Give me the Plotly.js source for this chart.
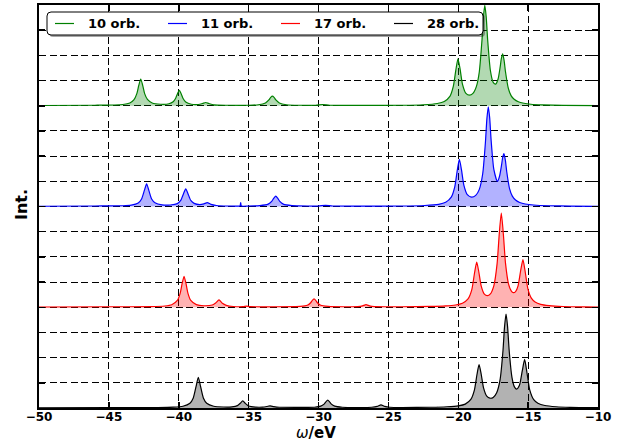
<!DOCTYPE html>
<html><head><meta charset="utf-8">
<script src="https://cdn.plot.ly/plotly-3.0.1.min.js"></script>
<style>html,body{margin:0;padding:0;background:#fff}#chart{width:618px;height:443px}</style>
</head><body><div id="chart"></div>
<script>
const labels = ['10 orb.', '11 orb.', '17 orb.', '28 orb.'];
const offsets = [12, 8, 4, 0];

const x10 = [-50,-46,-44,-43.5,-43.2,-43.0,-42.86,-42.72,-42.58,-42.44,-42.24,-41.9,-41.3,-40.7,-40.4,-40.22,-40.09,-39.96,-39.83,-39.7,-39.5,-39.1,-38.6,-38.3,-38.07,-37.85,-37.5,-36.5,-35,-34.3,-33.8,-33.55,-33.42,-33.3,-33.18,-33.05,-32.8,-32.3,-31.3,-30.2,-29.7,-29.2,-27,-24,-22.5,-21.5,-21.0,-20.6,-20.35,-20.17,-20.02,-19.87,-19.7,-19.45,-19.2,-18.95,-18.7,-18.5,-18.3,-18.2,-18.1,-18.0,-17.9,-17.7,-17.5,-17.32,-17.15,-17.0,-16.92,-16.82,-16.72,-16.62,-16.42,-16.22,-16.0,-15.7,-15.3,-14.8,-14,-12.5,-10];
const y10 = [0.01,0.02,0.05,0.11,0.24,0.48,0.81,1.06,0.81,0.48,0.25,0.11,0.06,0.08,0.16,0.3,0.48,0.61,0.48,0.3,0.15,0.06,0.05,0.09,0.13,0.09,0.035,0.02,0.02,0.04,0.11,0.23,0.33,0.38,0.33,0.23,0.11,0.04,0.02,0.02,0.05,0.02,0.015,0.02,0.04,0.09,0.17,0.37,0.78,1.43,1.86,1.46,0.86,0.49,0.42,0.49,0.77,1.32,2.62,3.52,3.99,3.53,2.65,1.40,0.93,0.86,1.06,1.54,1.86,2.06,1.80,1.35,0.70,0.40,0.26,0.16,0.10,0.06,0.035,0.015,0.008];

const x11 = [-50,-46,-44,-43.4,-42.9,-42.66,-42.46,-42.3,-42.14,-41.94,-41.7,-41.2,-40.6,-40.1,-39.86,-39.66,-39.5,-39.34,-39.14,-38.9,-38.5,-38.2,-37.96,-37.7,-37.3,-36.5,-35.8,-35.62,-35.57,-35.52,-35,-34.2,-33.6,-33.35,-33.2,-33.06,-32.92,-32.77,-32.52,-31.9,-30.8,-30,-29.5,-29.0,-27,-24,-22.4,-21.4,-20.9,-20.5,-20.25,-20.07,-19.92,-19.77,-19.6,-19.35,-19.04,-18.75,-18.5,-18.25,-18.05,-17.95,-17.85,-17.75,-17.65,-17.45,-17.2,-17.05,-16.9,-16.82,-16.73,-16.63,-16.53,-16.33,-16.13,-15.9,-15.6,-15.2,-14.6,-13.5,-12,-10];
const y11 = [0.01,0.02,0.03,0.055,0.14,0.30,0.64,0.90,0.64,0.30,0.15,0.065,0.06,0.115,0.24,0.51,0.70,0.51,0.24,0.125,0.075,0.105,0.155,0.085,0.04,0.02,0.015,0.02,0.15,0.02,0.02,0.035,0.095,0.20,0.33,0.41,0.33,0.20,0.095,0.035,0.02,0.02,0.045,0.02,0.015,0.02,0.04,0.085,0.165,0.37,0.78,1.44,1.87,1.46,0.85,0.47,0.37,0.44,0.67,1.30,2.59,3.49,3.96,3.52,2.65,1.46,1.0,1.19,1.65,1.95,2.1,1.84,1.38,0.71,0.41,0.26,0.16,0.10,0.06,0.03,0.015,0.008];

const x17 = [-50,-45,-42,-41,-40.5,-40.1,-39.9,-39.76,-39.62,-39.48,-39.34,-39.14,-38.74,-38.2,-37.6,-37.36,-37.12,-36.88,-36.6,-36.1,-35.4,-35.14,-34.9,-33,-31.3,-30.8,-30.56,-30.44,-30.32,-30.2,-30.08,-29.84,-29.3,-28.2,-27.2,-26.85,-26.6,-26.35,-26.0,-25,-24,-22,-20.9,-20.2,-19.7,-19.3,-19.03,-18.83,-18.68,-18.53,-18.36,-18.13,-17.92,-17.7,-17.45,-17.22,-17.07,-16.92,-16.77,-16.62,-16.4,-16.2,-16.06,-15.9,-15.72,-15.52,-15.37,-15.22,-15.02,-14.77,-14.5,-14.1,-13.5,-12.5,-11,-10];
const y17 = [0.01,0.02,0.025,0.05,0.10,0.27,0.55,0.935,1.23,0.935,0.55,0.27,0.105,0.06,0.09,0.165,0.29,0.155,0.075,0.03,0.025,0.045,0.025,0.02,0.035,0.08,0.18,0.275,0.33,0.275,0.18,0.08,0.035,0.02,0.025,0.055,0.105,0.055,0.025,0.02,0.02,0.035,0.055,0.09,0.16,0.33,0.70,1.38,1.79,1.41,0.85,0.52,0.46,0.53,0.86,1.73,2.88,3.74,2.89,1.75,0.92,0.64,0.58,0.62,0.85,1.50,1.89,1.45,0.74,0.36,0.21,0.115,0.065,0.03,0.015,0.01];

const x28 = [-50,-45,-41.5,-40.4,-39.7,-39.2,-38.96,-38.76,-38.6,-38.44,-38.24,-38.0,-37.5,-36.8,-36.2,-35.8,-35.6,-35.42,-35.24,-35.0,-34.5,-34.0,-33.7,-33.47,-33.2,-32.8,-31.5,-30.3,-29.84,-29.6,-29.46,-29.34,-29.22,-29.08,-28.84,-28.3,-27,-26.2,-25.8,-25.53,-25.26,-24.9,-24,-22,-20.8,-20.0,-19.5,-19.1,-18.85,-18.66,-18.51,-18.36,-18.19,-17.96,-17.73,-17.5,-17.25,-17.0,-16.8,-16.69,-16.58,-16.47,-16.36,-16.16,-15.98,-15.82,-15.62,-15.42,-15.25,-15.08,-14.88,-14.6,-14.3,-13.8,-13,-12,-10];
const y28 = [0.01,0.015,0.02,0.035,0.07,0.19,0.40,0.86,1.22,0.86,0.40,0.19,0.07,0.04,0.045,0.095,0.19,0.28,0.185,0.08,0.035,0.035,0.06,0.085,0.055,0.03,0.025,0.03,0.075,0.155,0.255,0.31,0.255,0.155,0.075,0.03,0.02,0.03,0.065,0.125,0.065,0.03,0.02,0.03,0.05,0.085,0.155,0.34,0.70,1.33,1.72,1.35,0.80,0.47,0.39,0.42,0.61,1.15,2.27,3.21,3.73,3.23,2.31,1.23,0.84,0.75,0.90,1.47,1.93,1.39,0.71,0.33,0.19,0.10,0.05,0.025,0.012];

const xAxisRange = [-50, -10];
const lineColors = ['#008000', '#0000ff', '#ff0000', '#000000'];
const fillColors = ['rgba(0,128,0,0.3)', 'rgba(0,0,255,0.3)', 'rgba(255,0,0,0.3)', 'rgba(0,0,0,0.3)'];

const W = 618, H = 443, M = {l: 39, r: 20, t: 5, b: 35};
const PW = W - M.l - M.r, PH = H - M.t - M.b;
const px = v => (v - M.l) / PW;          // pixel x -> paper x
const py = v => (H - M.b - v) / PH;      // pixel y -> paper y

const xs = [x10, x11, x17, x28];
const ys = [y10, y11, y17, y28];
const traces = [];
xs.forEach((x, i) => {
  traces.push({
    x: xAxisRange, y: [offsets[i], offsets[i]], mode: 'lines',
    line: {width: 0, color: 'rgba(0,0,0,0)'}, showlegend: false, hoverinfo: 'skip'
  });
  traces.push({
    x: x, y: ys[i].map(v => v + offsets[i]), mode: 'lines', fill: 'tonexty',
    fillcolor: fillColors[i], name: labels[i],
    line: {color: lineColors[i], width: 1.2, shape: 'spline', smoothing: 0.6},
    showlegend: false, hoverinfo: 'skip'
  });
});

// hand-drawn legend box (matplotlib-style: rounded, shadowed, single row)
function roundRect(x0, y0, x1, y1, r) {
  const X0 = px(x0), X1 = px(x1), Yt = py(y0), Yb = py(y1);
  const rx = r / PW, ry = r / PH;
  return `M${X0 + rx},${Yt} L${X1 - rx},${Yt} Q${X1},${Yt} ${X1},${Yt - ry} ` +
         `L${X1},${Yb + ry} Q${X1},${Yb} ${X1 - rx},${Yb} L${X0 + rx},${Yb} ` +
         `Q${X0},${Yb} ${X0},${Yb + ry} L${X0},${Yt - ry} Q${X0},${Yt} ${X0 + rx},${Yt} Z`;
}
const legBox = {x0: 47, y0: 12, x1: 483, y1: 35};
const legItem = {first: 55, pitch: 113, lineLen: 19, textGap: 32, yMid: 23.5};
const shapes = [
  {type: 'path', xref: 'paper', yref: 'paper', layer: 'above',
   path: roundRect(legBox.x0 + 2, legBox.y0 + 2, legBox.x1 + 2, legBox.y1 + 2, 4),
   fillcolor: 'rgba(0,0,0,0.35)', line: {width: 0}},
  {type: 'path', xref: 'paper', yref: 'paper', layer: 'above',
   path: roundRect(legBox.x0, legBox.y0, legBox.x1, legBox.y1, 4),
   fillcolor: '#ffffff', line: {color: '#000', width: 1}}
];
const annotations = [
  {text: '<span style="font-weight:normal"><i>ω</i></span>/eV', xref: 'paper', yref: 'paper',
   x: px(316), y: py(433), xanchor: 'center', yanchor: 'middle', showarrow: false,
   borderpad: 0, font: {size: 15, weight: 'bold'}},
  {text: 'Int.', xref: 'paper', yref: 'paper', x: px(21), y: py(205),
   xanchor: 'center', yanchor: 'middle', showarrow: false, textangle: -90,
   font: {size: 16, weight: 'bold'}}
];
labels.forEach((l, i) => {
  const lx = legItem.first + i * legItem.pitch;
  shapes.push({type: 'line', xref: 'paper', yref: 'paper', layer: 'above',
    x0: px(lx), x1: px(lx + legItem.lineLen), y0: py(legItem.yMid), y1: py(legItem.yMid),
    line: {color: lineColors[i], width: 1.2}});
  annotations.push({text: l, xref: 'paper', yref: 'paper',
    x: px(lx + legItem.textGap), y: py(legItem.yMid), xanchor: 'left', yanchor: 'middle',
    showarrow: false, borderpad: 0, font: {size: 13, weight: 'bold'}});
});

const axisCommon = {
  ticks: 'inside', ticklen: 6, tickwidth: 1.5, tickcolor: '#000',
  mirror: 'allticks', showline: true, linewidth: 2, linecolor: '#000',
  showgrid: true, gridcolor: '#000', gridwidth: 1, griddash: '7px,3.5px',
  zeroline: false
};

const layout = {
  width: W, height: H, margin: M,
  paper_bgcolor: '#fff', plot_bgcolor: '#fff',
  font: {family: 'DejaVu Sans', color: '#000'},
  xaxis: Object.assign({}, axisCommon, {
    range: xAxisRange, tick0: -50, dtick: 5, ticklabelstandoff: -3,
    tickfont: {size: 12, weight: 'bold'}
  }),
  yaxis: Object.assign({}, axisCommon, {
    range: [0, 16], tick0: 0, dtick: 1, showticklabels: false
  }),
  shapes: shapes,
  annotations: annotations,
  showlegend: false
};

Plotly.newPlot('chart', traces, layout, {displayModeBar: false, staticPlot: true});
</script>
</body></html>
